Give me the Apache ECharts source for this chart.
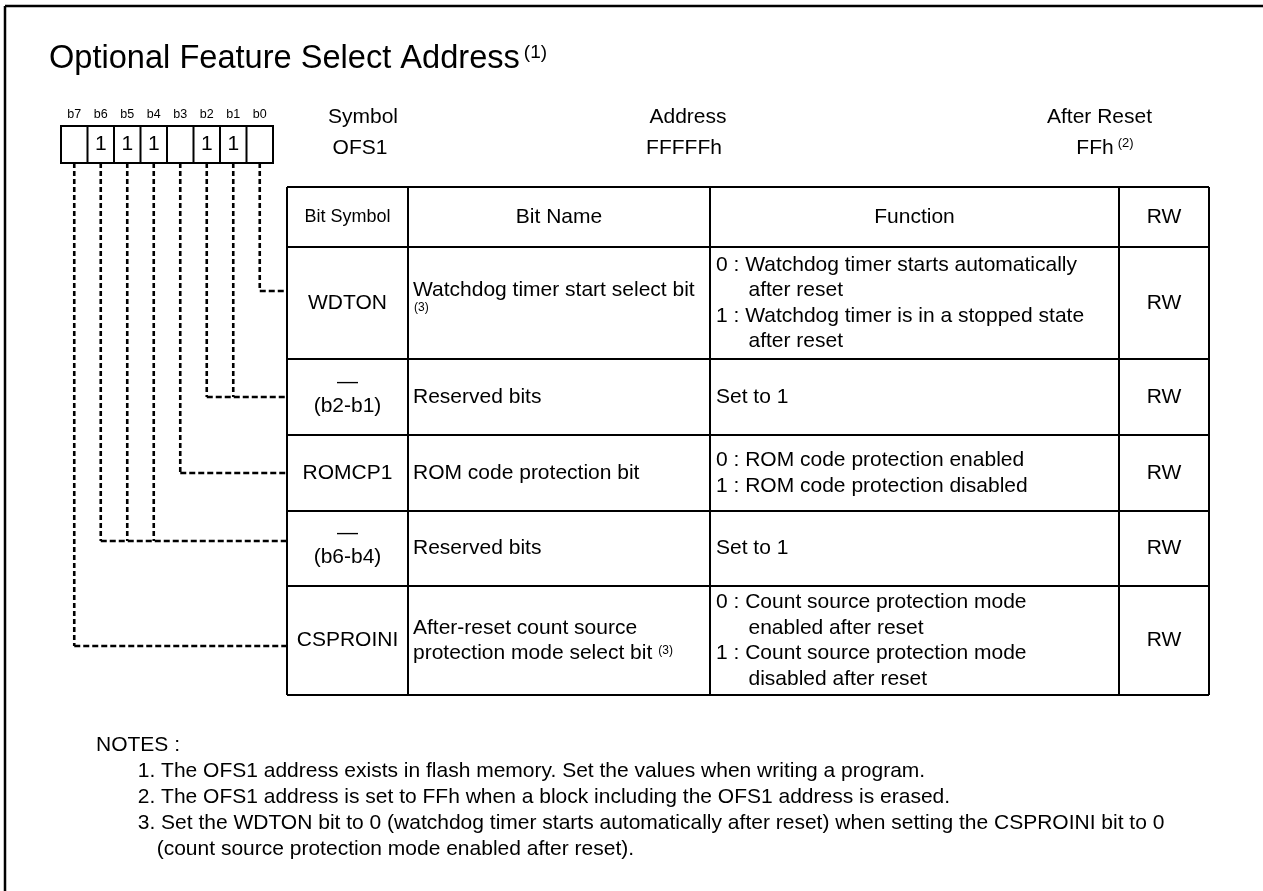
<!DOCTYPE html>
<html>
<head>
<meta charset="utf-8">
<script src="https://cdn.jsdelivr.net/npm/echarts@6/dist/echarts.min.js"></script>
<style>html,body{margin:0;padding:0;background:#fff}#c{width:1263px;height:891px}</style>
</head>
<body>
<div id="c"></div>
<script>
// ---------- data ----------
const title = 'Optional Feature Select Address';
const titleNote = '(1)';
const bitLabels = ['b7', 'b6', 'b5', 'b4', 'b3', 'b2', 'b1', 'b0'];
const bitValues = ['', '1', '1', '1', '', '1', '1', ''];
const infoLabels = ['Symbol', 'Address', 'After Reset'];
const infoValues = ['OFS1', 'FFFFFh', 'FFh'];
const infoNotes = ['', '', '(2)'];
const headers = ['Bit Symbol', 'Bit Name', 'Function', 'RW'];
const symbols = [['WDTON'], ['—', '(b2-b1)'], ['ROMCP1'], ['—', '(b6-b4)'], ['CSPROINI']];
const rowBits = [['b0'], ['b2', 'b1'], ['b3'], ['b6', 'b5', 'b4'], ['b7']];
const names = [
  ['Watchdog timer start select bit'],
  ['Reserved bits'],
  ['ROM code protection bit'],
  ['Reserved bits'],
  ['After-reset count source', 'protection mode select bit']
];
const nameNotes = ['(3)', '', '', '', '(3)'];
const functions = [
  [['0', 'Watchdog timer starts automatically', 'after reset'], ['1', 'Watchdog timer is in a stopped state', 'after reset']],
  [[null, 'Set to 1']],
  [['0', 'ROM code protection enabled'], ['1', 'ROM code protection disabled']],
  [[null, 'Set to 1']],
  [['0', 'Count source protection mode', 'enabled after reset'], ['1', 'Count source protection mode', 'disabled after reset']]
];
const access = ['RW', 'RW', 'RW', 'RW', 'RW'];
const notesTitle = 'NOTES :';
const notes = [
  ['1. The OFS1 address exists in flash memory. Set the values when writing a program.'],
  ['2. The OFS1 address is set to FFh when a block including the OFS1 address is erased.'],
  ['3. Set the WDTON bit to 0 (watchdog timer starts automatically after reset) when setting the CSPROINI bit to 0',
   '(count source protection mode enabled after reset).']
];

// ---------- layout ----------
const FAM = '"Liberation Sans", Arial, sans-serif';
const L = {
  frameX: 5, frameY: 6, frameW: 2.5,
  titleX: 49, titleY: 59, titleSize: 32.6, titleNoteSize: 19, titleNoteTop: 43,
  boxX: 61, boxW: 26.5, boxTop: 126, boxBot: 163, bitLabelY: 115, bitLabelSize: 12.5, bitValY: 144.5,
  infoLabelX: [363, 688, 1099.5], infoValX: [360, 684, 1095], infoLabelY: 117, infoValY: 148,
  infoNoteSize: 13, infoNoteTop: 137,
  colX: [287, 408, 710, 1119, 1209],
  rowY: [187, 247, 359, 435, 511, 586, 695],
  connY: [291, 397, 473, 541, 646],
  size: 21, headSymSize: 18, noteSize: 12,
  namePad: 5, nameLH: 24.5,
  funcPad: 6, funcIndent: 32.5, funcLH: 25.5,
  notesX: 96, notesItemX: 137.7, notesContX: 156.7, notesY: 745.3, notesLH: 26
};

const mctx = document.createElement('canvas').getContext('2d');
function tw(text, size) { mctx.font = size + 'px ' + FAM; return mctx.measureText(text).width; }

const els = [];
function T(text, x, y, size, align, va) {
  align = align || 'left'; va = va || 'middle';
  els.push({type: 'text', silent: true, z: 10, style: {
    text: text, x: x, y: y, fill: '#000', font: size + 'px ' + FAM,
    textAlign: align, textVerticalAlign: va, align: align, verticalAlign: va
  }});
}
function Ln(x1, y1, x2, y2, w, dash) {
  els.push({type: 'line', silent: true, shape: {x1: x1, y1: y1, x2: x2, y2: y2},
    style: {stroke: '#000', lineWidth: w || 2, lineDash: dash || null, fill: null}});
}

// frame (only top and left edges are visible in the crop)
Ln(L.frameX, L.frameY, 1263, L.frameY, L.frameW);
Ln(L.frameX, L.frameY, L.frameX, 891, L.frameW);

// title
T(title, L.titleX, L.titleY, L.titleSize);
T(titleNote, L.titleX + tw(title, L.titleSize) + 4, L.titleNoteTop, L.titleNoteSize, 'left', 'top');

// bit boxes
const boxRight = L.boxX + L.boxW * bitLabels.length;
els.push({type: 'rect', silent: true, shape: {x: L.boxX, y: L.boxTop, width: boxRight - L.boxX, height: L.boxBot - L.boxTop},
  style: {fill: null, stroke: '#000', lineWidth: 2}});
const bitCenter = {};
bitLabels.forEach(function (b, i) {
  const cx = L.boxX + L.boxW * (i + 0.5);
  bitCenter[b] = cx;
  if (i > 0) Ln(L.boxX + L.boxW * i, L.boxTop, L.boxX + L.boxW * i, L.boxBot, 2);
  T(b, cx, L.bitLabelY, L.bitLabelSize, 'center');
  if (bitValues[i]) T(bitValues[i], cx, L.bitValY, L.size, 'center');
});

// symbol / address / after reset
infoLabels.forEach(function (s, i) {
  T(s, L.infoLabelX[i], L.infoLabelY, L.size, 'center');
  T(infoValues[i], L.infoValX[i], L.infoValY, L.size, 'center');
  if (infoNotes[i]) {
    const right = L.infoValX[i] + tw(infoValues[i], L.size) / 2;
    T(infoNotes[i], right + 4, L.infoNoteTop, L.infoNoteSize, 'left', 'top');
  }
});

// table grid
const c = L.colX, r = L.rowY;
r.forEach(function (y) { Ln(c[0], y, c[c.length - 1], y, 2); });
c.forEach(function (x) { Ln(x, r[0], x, r[r.length - 1], 2); });

// header
headers.forEach(function (h, i) {
  T(h, (c[i] + c[i + 1]) / 2, (r[0] + r[1]) / 2, i === 0 ? L.headSymSize : L.size, 'center');
});

// rows
symbols.forEach(function (sym, k) {
  const top = r[k + 1], bot = r[k + 2], rc = (top + bot) / 2;
  // bit symbol
  const sx = (c[0] + c[1]) / 2;
  if (sym.length === 1) T(sym[0], sx, rc, L.size, 'center');
  else { T(sym[0], sx, rc - 15, L.size, 'center'); T(sym[1], sx, rc + 9, L.size, 'center'); }

  // bit name
  const nx = c[1] + L.namePad;
  const nm = names[k], nn = nameNotes[k];
  const lastW = tw(nm[nm.length - 1], L.size);
  const avail = c[2] - c[1] - 2 * L.namePad;
  if (nn && lastW + 6 + tw(nn, L.noteSize) > avail - 5) {
    // note goes on its own line below
    T(nm[0], nx, rc - 12.5, L.size);
    T(nn, nx + 1, rc - 1, L.noteSize, 'left', 'top');
  } else {
    const y0 = rc - (nm.length - 1) * L.nameLH / 2;
    nm.forEach(function (line, j) { T(line, nx, y0 + j * L.nameLH, L.size); });
    if (nn) {
      const ly = y0 + (nm.length - 1) * L.nameLH;
      T(nn, nx + lastW + 6, ly - 8, L.noteSize, 'left', 'top');
    }
  }

  // function
  const fx = c[2] + L.funcPad;
  const lines = [];
  functions[k].forEach(function (f) {
    if (f[0] === null) lines.push([fx, f[1]]);
    else {
      lines.push([fx, f[0] + ' : ' + f[1]]);
      for (let j = 2; j < f.length; j++) lines.push([fx + L.funcIndent, f[j]]);
    }
  });
  const fy0 = rc - (lines.length - 1) * L.funcLH / 2;
  lines.forEach(function (ln, j) { T(ln[1], ln[0], fy0 + j * L.funcLH, L.size); });

  // RW
  T(access[k], (c[3] + c[4]) / 2, rc, L.size, 'center');

  // dashed connectors from bit boxes to table
  const cy = L.connY[k];
  const xs = rowBits[k].map(function (b) { return bitCenter[b]; });
  xs.forEach(function (x) { Ln(x, L.boxBot, x, cy, 2.6, [5, 3]); });
  Ln(Math.min.apply(null, xs), cy, c[0], cy, 2.6, [6, 3]);
});

// notes
T(notesTitle, L.notesX, L.notesY, L.size);
let ny = L.notesY + L.notesLH;
notes.forEach(function (n) {
  n.forEach(function (line, j) {
    T(line, j === 0 ? L.notesItemX : L.notesContX, ny, L.size);
    ny += L.notesLH;
  });
});

const chart = echarts.init(document.getElementById('c'), null, {renderer: 'canvas'});
chart.setOption({
  backgroundColor: '#fff',
  animation: false,
  graphic: {elements: els}
});
</script>
</body>
</html>
